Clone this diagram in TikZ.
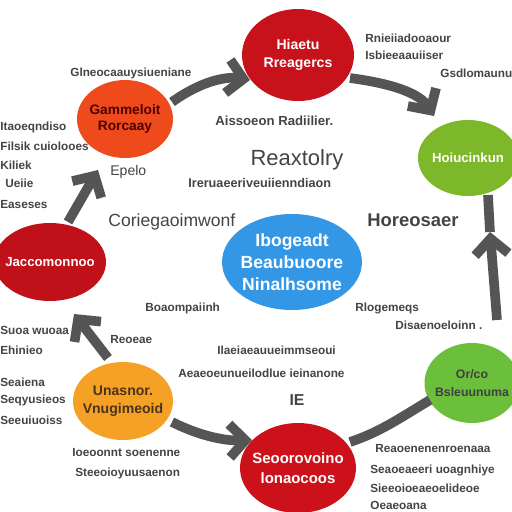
\documentclass[tikz,border=0pt]{standalone}
\usepackage{fontspec}
\setmainfont{Liberation Sans}
\usetikzlibrary{arrows.meta,shapes.geometric}
\definecolor{topred}{HTML}{C8121B}
\definecolor{ulorange}{HTML}{EE4A1C}
\definecolor{rgreen}{HTML}{7CB82A}
\definecolor{lred}{HTML}{C0101A}
\definecolor{cblue}{HTML}{3497E6}
\definecolor{borange}{HTML}{F4A125}
\definecolor{bgreen}{HTML}{6BBF3A}
\definecolor{bred}{HTML}{CC111B}
\definecolor{txt}{HTML}{444444}
\definecolor{arr}{HTML}{555555}
\begin{document}
\begin{tikzpicture}[x=0.02cm,y=-0.02cm,
  blob/.style={ellipse,inner sep=0pt},
  blobtext/.style={inner sep=0pt,align=center,font=\fontsize{8}{10}\selectfont\bfseries},
  lbl/.style={anchor=west,inner sep=0pt,text=txt,font=\fontsize{6.7}{7.5}\selectfont\bfseries},
  big/.style={inner sep=0pt,text=txt},
  flow/.style={draw=arr,line width=5.5pt,-{Straight Barb[length=9pt,width=19pt]}},
  band/.style={draw=arr,line width=5.5pt}]
\useasboundingbox (0,0) rectangle (512,512);
\fill[white] (0,0) rectangle (512,512);
% ellipses
\node[blob,fill=topred,minimum width=2.24cm,minimum height=1.84cm] (top) at (298,55) {};
\node[blobtext,text=white] (topT) at (top.center) {Hiaetu\\Rreagercs};
\node[blob,fill=ulorange,minimum width=1.92cm,minimum height=1.56cm] (ul) at (125,119) {};
\node[blobtext,text=black!70!red,font=\fontsize{7.8}{9}\selectfont\bfseries] (ulT) at (ul.center) {Gammeloit\\Rorcaay};
\node[blob,fill=rgreen,minimum width=2.0cm,minimum height=1.52cm] (rg) at (468,158) {};
\node[blobtext,text=white,font=\fontsize{7.5}{9}\selectfont\bfseries] (rgT) at (rg.center) {Hoiucinkun};
\node[blob,fill=lred,minimum width=2.24cm,minimum height=1.56cm] (lr) at (50,262) {};
\node[blobtext,text=white,font=\fontsize{7.5}{9}\selectfont\bfseries] (lrT) at (lr.center) {Jaccomonnoo};
\node[blob,fill=cblue,minimum width=2.8cm,minimum height=1.92cm] (cb) at (292,262) {};
\node[blobtext,text=white,font=\fontsize{10}{12.5}\selectfont\bfseries] (cbT) at (cb.center) {Ibogeadt\\Beaubuoore\\Ninalhsome};
\node[blob,fill=borange,minimum width=2.0cm,minimum height=1.56cm] (bo) at (123,401) {};
\node[blobtext,text=black!60!brown,font=\fontsize{8}{10.5}\selectfont\bfseries] (boT) at (bo.center) {Unasnor.\\Vnugimeoid};
\node[blob,fill=bgreen,minimum width=1.9cm,minimum height=1.6cm] (bg) at (472,383) {};
\node[blobtext,text=black!75,font=\fontsize{7}{10}\selectfont\bfseries] (bgT) at (bg.center) {Or/co\\Bsleuunuma};
\node[blob,fill=bred,minimum width=2.32cm,minimum height=1.8cm] (br) at (298,468) {};
\node[blobtext,text=white,font=\fontsize{8.5}{11}\selectfont\bfseries] (brT) at (br.center) {Seoorovoino\\lonaocoos};
% connectors
\coordinate (a1s) at (172,102); \coordinate (a1e) at (250,80);
\draw[flow] (a1s) .. controls (200,82) and (225,76) .. (a1e);
\coordinate (a2s) at (350,78); \coordinate (a2e) at (434,116);
\draw[flow] (a2s) .. controls (395,84) and (420,94) .. (a2e);
\coordinate (a3s) at (497,320); \coordinate (a3e) at (490,232); \coordinate (a3t) at (488,195);
\draw[flow] (a3s) -- (a3e);
\draw[band] (a3e) -- (a3t);
\coordinate (a4s) at (430,400); \coordinate (a4e) at (350,442);
\draw[band] (a4s) .. controls (400,418) and (380,432) .. (a4e);
\coordinate (a5s) at (172,422); \coordinate (a5e) at (252,440);
\draw[flow] (a5s) .. controls (200,436) and (225,441) .. (a5e);
\coordinate (a6s) at (108,358); \coordinate (a6e) at (74,314);
\draw[flow] (a6s) -- (a6e);
\coordinate (a7s) at (68,222); \coordinate (a7e) at (98,170);
\draw[flow] (a7s) -- (a7e);
% labels
\node[lbl] (t1) at (70,73) {Glneocaauysiueniane};
\node[lbl] (t2) at (0,127) {Itaoeqndiso};
\node[lbl] (t3) at (0,146) {Filsik cuiolooes};
\node[lbl] (t4) at (0,165) {Kiliek};
\node[lbl] (t5) at (5,183) {Ueiie};
\node[lbl] (t6) at (0,204) {Easeses};
\node[big,anchor=west,font=\fontsize{8}{9}\selectfont] (t7) at (110,172) {Epelo};
\node[lbl] (t8) at (365,38) {Rnieiiadooaour};
\node[lbl] (t9) at (365,55) {Isbieeaauiiser};
\node[lbl] (t10) at (440,73) {Gsdlomaunu};
\node[lbl,font=\fontsize{7.5}{8.5}\selectfont\bfseries] (t11) at (215,121) {Aissoeon Radiilier.};
\node[big,font=\fontsize{12.5}{14}\selectfont] (t12) at (297,160) {Reaxtolry};
\node[lbl,font=\fontsize{7.2}{8}\selectfont\bfseries] (t13) at (188,183) {Ireruaeeriveuiienndiaon};
\node[big,anchor=west,font=\fontsize{10}{12}\selectfont] (t14) at (108,222) {Coriegaoimwonf};
\node[big,anchor=west,font=\fontsize{10.5}{12}\selectfont\bfseries] (t15) at (367,220) {Horeosaer};
\node[lbl] (t16) at (145,308) {Boaompaiinh};
\node[lbl] (t17) at (355,308) {Rlogemeqs};
\node[lbl] (t18) at (395,325) {Disaenoeloinn .};
\node[lbl] (t19) at (0,330) {Suoa wuoaa};
\node[lbl] (t20) at (0,350) {Ehinieo};
\node[lbl] (t21) at (110,340) {Reoeae};
\node[lbl] (t22) at (217,350) {Ilaeiaeauueimmseoui};
\node[lbl] (t23) at (178,373) {Aeaeoeunueilodlue ieinanone};
\node[lbl] (t24) at (0,382) {Seaiena};
\node[lbl] (t25) at (0,400) {Seqyusieos};
\node[lbl] (t26) at (0,420) {Seeuiuoiss};
\node[big,font=\fontsize{9}{10}\selectfont\bfseries] (t27) at (297,400) {IE};
\node[lbl] (t28) at (72,453) {Ioeoonnt soenenne};
\node[lbl] (t29) at (75,473) {Steeoioyuusaenon};
\node[lbl] (t30) at (375,448) {Reaoenenenroenaaa};
\node[lbl] (t31) at (370,470) {Seaoeaeeri uoagnhiye};
\node[lbl] (t32) at (370,488) {Sieeoioeaeoelideoe};
\node[lbl] (t33) at (370,505) {Oeaeoana};
\end{tikzpicture}
\end{document}
